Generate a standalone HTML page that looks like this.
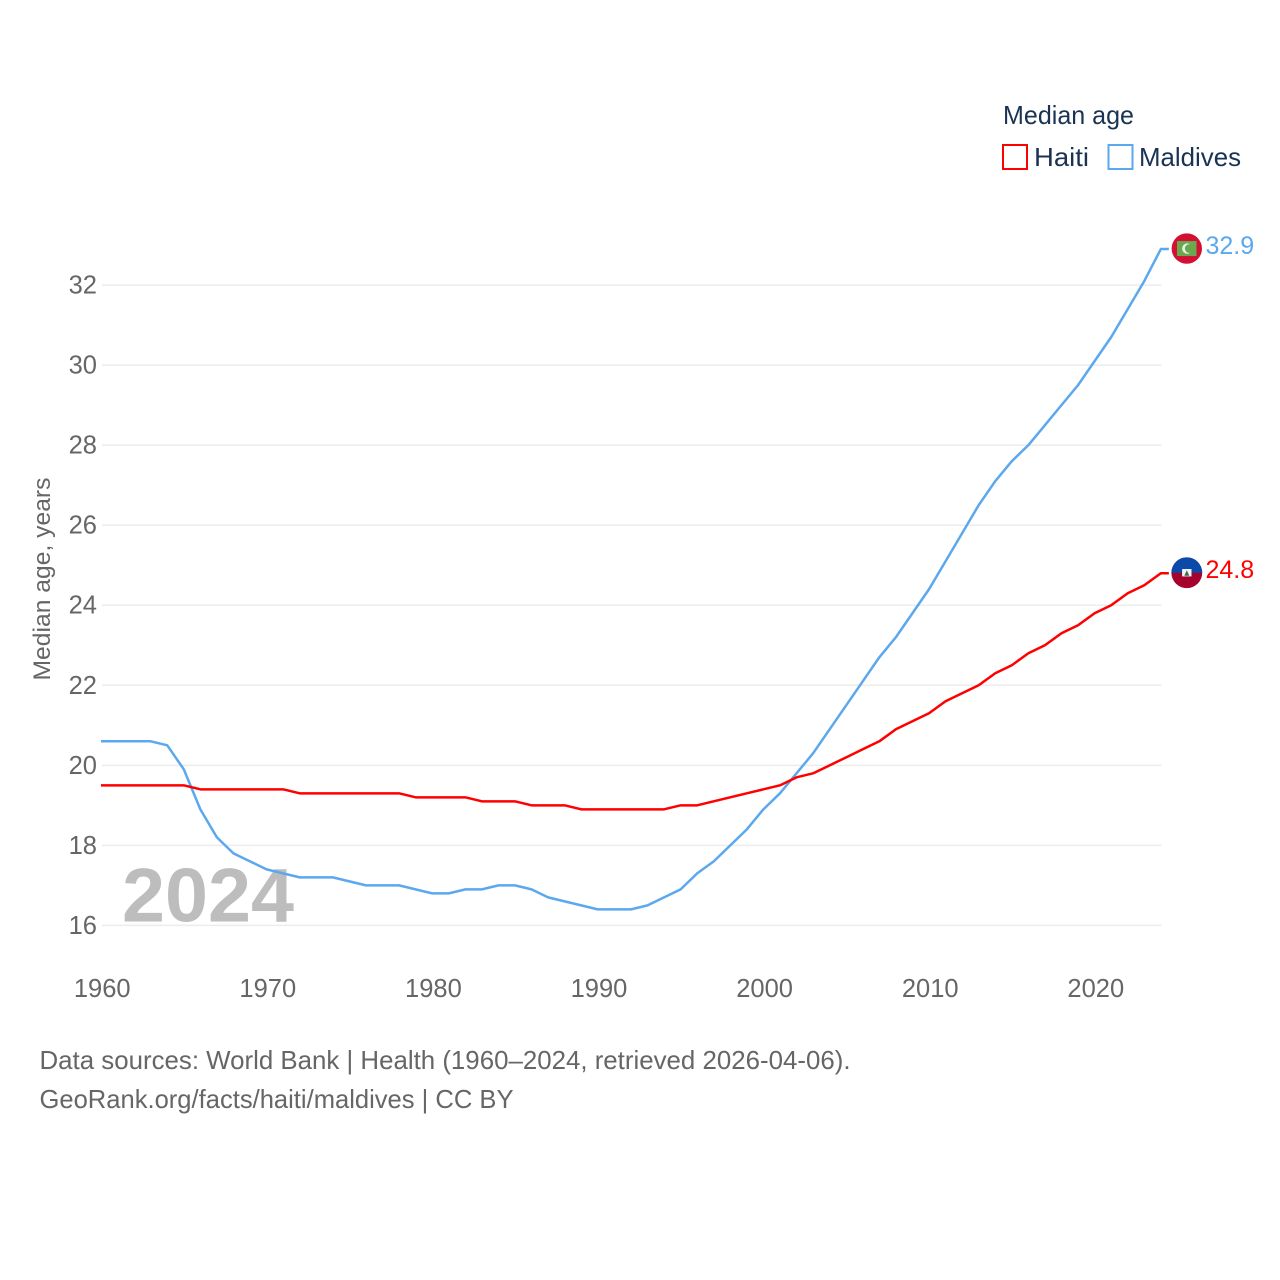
<!DOCTYPE html>
<html lang="en">
<head>
<meta charset="utf-8">
<title>Median age: Haiti and Maldives</title>
<style>
html,body{margin:0;padding:0;background:#fff;}
svg{display:block;font-family:"Liberation Sans",sans-serif;}
</style>
</head>
<body>
<svg id="chart" width="1280" height="1280" viewBox="0 0 1280 1280" xmlns="http://www.w3.org/2000/svg">
  <rect x="0" y="0" width="1280" height="1280" fill="#ffffff"/>
  <g id="grid"></g>
  <g id="yticks"></g>
  <g id="xticks"></g>
  <text transform="translate(50,579) rotate(-90)" text-anchor="middle" font-size="24.5" fill="#666666" textLength="203" lengthAdjust="spacingAndGlyphs">Median age, years</text>
  <text x="122" y="921.500" font-size="76" font-weight="700" fill="#bdbdbd" textLength="172" lengthAdjust="spacingAndGlyphs">2024</text>
  <g id="series"></g>
  <g id="markers"></g>

  <g>
    <text x="1003" y="124" font-size="26" fill="#1a3354" textLength="131" lengthAdjust="spacingAndGlyphs">Median age</text>
    <rect x="1003" y="145" width="24" height="24" fill="none" stroke="#ff0000" stroke-width="2"/>
    <text x="1034" y="166" font-size="26" fill="#1a3354" textLength="55" lengthAdjust="spacingAndGlyphs">Haiti</text>
    <rect x="1108.500" y="145" width="24" height="24" fill="none" stroke="#5ba8ee" stroke-width="2"/>
    <text x="1139" y="166" font-size="26" fill="#1a3354" textLength="102" lengthAdjust="spacingAndGlyphs">Maldives</text>
  </g>

  <text x="39.500" y="1069" font-size="26" fill="#666666" textLength="811" lengthAdjust="spacingAndGlyphs">Data sources: World Bank | Health (1960–2024, retrieved 2026-04-06).</text>
  <text x="39.500" y="1108" font-size="26" fill="#666666" textLength="474" lengthAdjust="spacingAndGlyphs">GeoRank.org/facts/haiti/maldives | CC BY</text>
</svg>
<script>
const years = [1960,1961,1962,1963,1964,1965,1966,1967,1968,1969,1970,1971,1972,1973,1974,1975,1976,1977,1978,1979,1980,1981,1982,1983,1984,1985,1986,1987,1988,1989,1990,1991,1992,1993,1994,1995,1996,1997,1998,1999,2000,2001,2002,2003,2004,2005,2006,2007,2008,2009,2010,2011,2012,2013,2014,2015,2016,2017,2018,2019,2020,2021,2022,2023,2024];
const haitiValues = [19.5,19.5,19.5,19.5,19.5,19.5,19.4,19.4,19.4,19.4,19.4,19.4,19.3,19.3,19.3,19.3,19.3,19.3,19.3,19.2,19.2,19.2,19.2,19.1,19.1,19.1,19.0,19.0,19.0,18.9,18.9,18.9,18.9,18.9,18.9,19.0,19.0,19.1,19.2,19.3,19.4,19.5,19.7,19.8,20.0,20.2,20.4,20.6,20.9,21.1,21.3,21.6,21.8,22.0,22.3,22.5,22.8,23.0,23.3,23.5,23.8,24.0,24.3,24.5,24.8];
const maldivesValues = [20.6,20.6,20.6,20.6,20.5,19.9,18.9,18.2,17.8,17.6,17.4,17.3,17.2,17.2,17.2,17.1,17.0,17.0,17.0,16.9,16.8,16.8,16.9,16.9,17.0,17.0,16.9,16.7,16.6,16.5,16.4,16.4,16.4,16.5,16.7,16.9,17.3,17.6,18.0,18.4,18.9,19.3,19.8,20.3,20.9,21.5,22.1,22.7,23.2,23.8,24.4,25.1,25.8,26.5,27.1,27.6,28.0,28.5,29.0,29.5,30.1,30.7,31.4,32.1,32.9];
const yTickValues = [16,18,20,22,24,26,28,30,32];
const xTickValues = [1960,1970,1980,1990,2000,2010,2020];

const NS = 'http://www.w3.org/2000/svg';
const xScale = function (year) { return 101 + (year - 1960) * 16.56; };
const yScale = function (value) { return 925.4 - (value - 16) * 40.02; };

function make(tag, attrs, parent, text) {
  const el = document.createElementNS(NS, tag);
  Object.keys(attrs).forEach(function (k) { el.setAttribute(k, attrs[k]); });
  if (text !== undefined) el.textContent = text;
  parent.appendChild(el);
  return el;
}

const grid = document.getElementById('grid');
const yticks = document.getElementById('yticks');
const xticks = document.getElementById('xticks');
const seriesGroup = document.getElementById('series');
const markers = document.getElementById('markers');

yTickValues.forEach(function (v) {
  const line = make('line', {x1: 102, x2: 1161.500, y1: yScale(v), y2: yScale(v), stroke: '#ececec', 'stroke-width': 1.5}, grid);
  
  
  const label = make('text', {x: 97, y: yScale(v) + 8.5, 'text-anchor': 'end', 'font-size': 25.5, fill: '#666666'}, yticks, String(v));
  
  
});

xTickValues.forEach(function (year) {
  const label = make('text', {x: xScale(year) + 1.2, y: 997, 'text-anchor': 'middle', 'font-size': 25.5, fill: '#666666'}, xticks, String(year));
  
  
});

function drawSeries(name, values, color) {
  let d = years.map(function (year, i) {
    return (i ? 'L' : 'M') + xScale(year).toFixed(2) + ' ' + yScale(values[i]).toFixed(2);
  }).join(' ');
  const last = values[values.length - 1];
  d += ' L' + (xScale(years[years.length - 1]) + 8).toFixed(2) + ' ' + yScale(last).toFixed(2);
  const path = make('path', {d: d, fill: 'none', stroke: color, 'stroke-width': 2.5, 'stroke-linejoin': 'round'}, seriesGroup);
  
  
  const label = make('text', {x: 1205.5, y: yScale(last) + 5, 'font-size': 25, fill: color}, markers, last.toFixed(1));
  
  
}
drawSeries('maldives', maldivesValues, '#5ba8ee');
drawSeries('haiti', haitiValues, '#ff0000');

const flagX = 1186.8;

function drawMaldivesFlag(cy) {
  const g = make('g', {}, markers);
  
  
  make('circle', {cx: flagX, cy: cy, r: 15.2, fill: '#d21034'}, g);
  make('rect', {x: flagX - 9.8, y: cy - 7.5, width: 19.5, height: 15, fill: '#6aa84f'}, g);
  make('circle', {cx: flagX + 0.5, cy: cy, r: 5.2, fill: '#e6f0dc'}, g);
  make('circle', {cx: flagX + 2.5, cy: cy, r: 4.4, fill: '#6aa84f'}, g);
}

function drawHaitiFlag(cy) {
  const g = make('g', {}, markers);
  
  
  make('circle', {cx: flagX, cy: cy, r: 15.4, fill: '#a6022e'}, g);
  make('path', {d: 'M' + (flagX - 15.4) + ' ' + cy + ' A15.4 15.4 0 0 1 ' + (flagX + 15.4) + ' ' + cy + ' Z', fill: '#0a4aa8'}, g);
  make('rect', {x: flagX - 4.7, y: cy - 3.7, width: 9.4, height: 7.4, fill: '#f4f4f4'}, g);
  make('path', {d: 'M' + (flagX - 2.5) + ' ' + (cy + 3) + ' L' + flagX + ' ' + (cy - 2.5) + ' L' + (flagX + 2.5) + ' ' + (cy + 3) + ' Z', fill: '#3c6a4a'}, g);
}

drawMaldivesFlag(yScale(maldivesValues[maldivesValues.length - 1]) - 0.5);
drawHaitiFlag(yScale(haitiValues[haitiValues.length - 1]) - 0.5);
</script>
</body>
</html>
